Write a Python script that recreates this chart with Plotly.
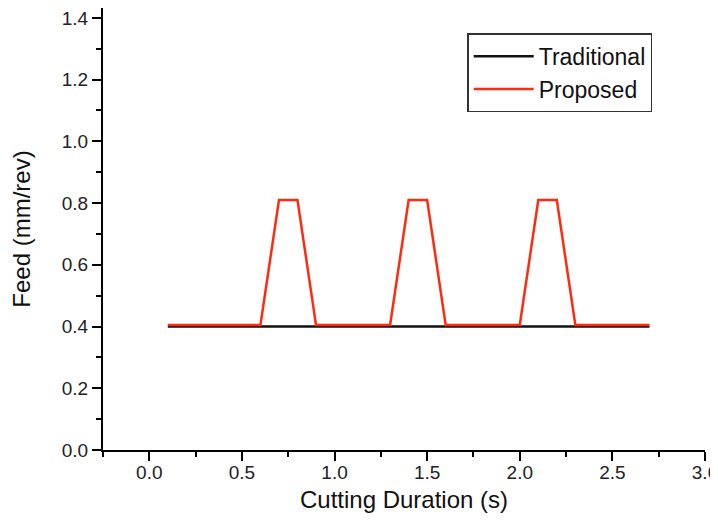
import plotly.graph_objects as go

trad_x = [0.1, 2.7]
trad_y = [0.4, 0.4]

prop_x = [0.1, 0.6, 0.7, 0.8, 0.9, 1.3, 1.4, 1.5, 1.6, 2.0, 2.1, 2.2, 2.3, 2.7]
prop_y = [0.405, 0.405, 0.81, 0.81, 0.405, 0.405, 0.81, 0.81, 0.405, 0.405, 0.81, 0.81, 0.405, 0.405]

x_ticks = [0.0, 0.5, 1.0, 1.5, 2.0, 2.5, 3.0]
y_ticks = [0.0, 0.2, 0.4, 0.6, 0.8, 1.0, 1.2, 1.4]

fig = go.Figure()
fig.add_trace(go.Scatter(x=trad_x, y=trad_y, mode="lines", name="Traditional",
                         line=dict(color="#111111", width=2.5)))
fig.add_trace(go.Scatter(x=prop_x, y=prop_y, mode="lines", name="Proposed",
                         line=dict(color="#ff2a10", width=2.5)))

font = "Liberation Sans, Arial, sans-serif"
fig.update_layout(
    width=718, height=524,
    margin=dict(l=95, r=21, t=0, b=82),
    plot_bgcolor="white", paper_bgcolor="white",
    font=dict(family=font, size=19, color="#222222"),
    showlegend=True,
    legend=dict(x=0.605, y=0.943, xanchor="left", yanchor="top",
                bordercolor="#333333", borderwidth=1.5, bgcolor="white",
                font=dict(size=23, color="#111111"), itemwidth=60,
                tracegroupgap=0),
    xaxis=dict(range=[-0.25, 3.0], tickvals=x_ticks, ticktext=[f"{v:.1f}" for v in x_ticks],
               showgrid=False, zeroline=False, showline=True, linecolor="black", linewidth=2,
               ticks="outside", ticklen=9, tickwidth=2, tickcolor="black", automargin=False,
               ticklabeloverflow="allow", ticklabelstandoff=-5,
               minor=dict(ticks="outside", ticklen=5, tickwidth=2, tickcolor="black", dtick=0.25,
                          showgrid=False),
               title=dict(text="Cutting Duration (s)", font=dict(size=24, color="#111111"), standoff=9)),
    yaxis=dict(range=[0, 1.432], tickvals=y_ticks, ticktext=[f"{v:.1f}" for v in y_ticks],
               showgrid=False, zeroline=False, showline=True, linecolor="black", linewidth=2,
               ticks="outside", ticklen=9, tickwidth=2, tickcolor="black", automargin=False,
               ticklabeloverflow="allow",
               minor=dict(ticks="outside", ticklen=5, tickwidth=2, tickcolor="black", dtick=0.1,
                          showgrid=False),
               title=dict(text="Feed (mm/rev)", font=dict(size=24, color="#111111"), standoff=34)),
)

fig.write_html("out.html")
